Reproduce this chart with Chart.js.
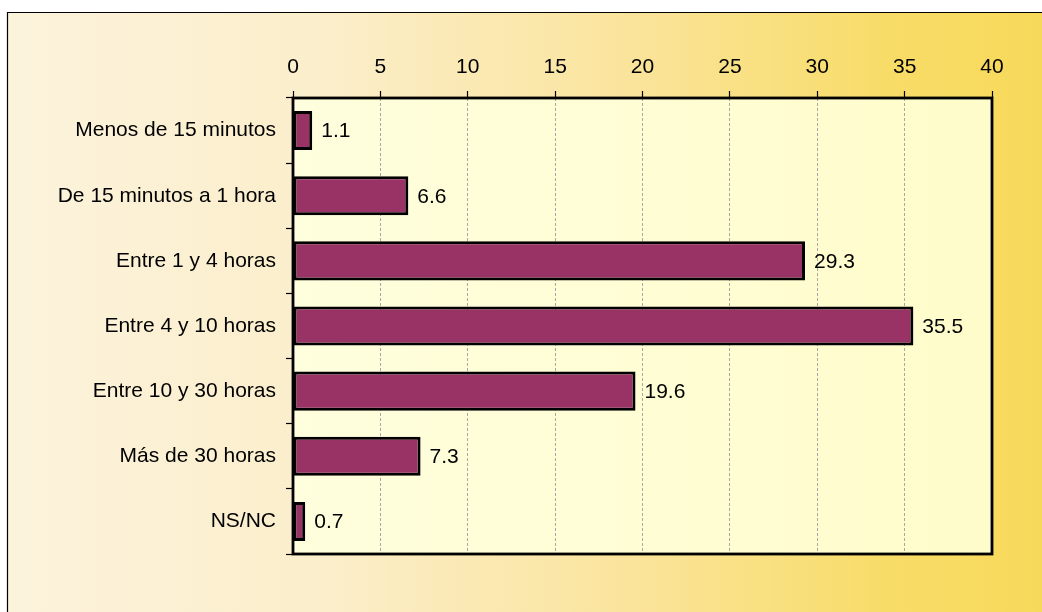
<!DOCTYPE html>
<html>
<head>
<meta charset="utf-8">
<script src="https://cdn.jsdelivr.net/npm/chart.js@4"></script>
<style>
  html, body { margin: 0; padding: 0; background: #fff; }
  #wrap { width: 1042px; height: 612px; }
</style>
</head>
<body>
<div id="wrap"><canvas id="myChart" width="1042" height="612"></canvas></div>
<script>
// chart data
const categories = [
  "Menos de 15 minutos",
  "De 15 minutos a 1 hora",
  "Entre 1 y 4 horas",
  "Entre 4 y 10 horas",
  "Entre 10 y 30 horas",
  "Más de 30 horas",
  "NS/NC"
];
const percentages = [1.1, 6.6, 29.3, 35.5, 19.6, 7.3, 0.7];
const xTicks = [0, 5, 10, 15, 20, 25, 30, 35, 40];

const FONT = "'Liberation Sans', Arial, sans-serif";

// background gradient, plot fill and frame
const backdrop = {
  id: "backdrop",
  beforeDraw(chart) {
    const { ctx, width, height, chartArea: a } = chart;
    ctx.save();
    ctx.fillStyle = "#ffffff";
    ctx.fillRect(0, 0, width, height);
    const g = ctx.createLinearGradient(7, 0, width, 0);
    g.addColorStop(0, "#fcf3dc");
    g.addColorStop(0.3, "#fbeecb");
    g.addColorStop(0.6, "#fae49c");
    g.addColorStop(0.85, "#f8dc68");
    g.addColorStop(1, "#f7d95a");
    ctx.fillStyle = g;
    ctx.fillRect(7, 12, width - 7, height - 12);
    ctx.strokeStyle = "#000";
    ctx.lineWidth = 1.2;
    ctx.beginPath();
    ctx.moveTo(7.5, height + 2);
    ctx.lineTo(7.5, 12.5);
    ctx.lineTo(width + 2, 12.5);
    ctx.stroke();
    const p = ctx.createLinearGradient(a.left, 0, a.right, 0);
    p.addColorStop(0, "#fffedd");
    p.addColorStop(1, "#fffccb");
    ctx.fillStyle = p;
    ctx.fillRect(a.left, a.top, a.right - a.left, a.bottom - a.top);
    ctx.restore();
  },
  afterDatasetsDraw(chart) {
    const { ctx, chartArea: a } = chart;
    ctx.save();
    // value labels
    ctx.font = "21px " + FONT;
    ctx.fillStyle = "#000";
    ctx.textAlign = "left";
    ctx.textBaseline = "middle";
    chart.getDatasetMeta(0).data.forEach((bar, i) => {
      ctx.fillText(percentages[i].toFixed(1), bar.x + 9, bar.y + 1);
    });
    // plot frame
    ctx.strokeStyle = "#000";
    ctx.lineWidth = 2.8;
    ctx.strokeRect(a.left, a.top, a.right - a.left, a.bottom - a.top);
    ctx.restore();
  }
};

const ctx = document.getElementById("myChart");

new Chart(ctx, {
  type: "bar",
  data: {
    labels: categories,
    datasets: [
      {
        data: percentages,
        backgroundColor: "#993366",
        borderColor: "#000000",
        borderWidth: 3,
        borderSkipped: false,
        barPercentage: 0.6,
        categoryPercentage: 1
      }
    ]
  },
  options: {
    indexAxis: "y",
    responsive: false,
    animation: false,
    layout: { padding: { left: 0, top: 0, right: 50, bottom: 58 } },
    scales: {
      x: {
        position: "top",
        min: 0,
        max: 40,
        afterBuildTicks: (scale) => {
          scale.ticks = xTicks.map((v) => ({ value: v }));
        },
        afterFit: (scale) => { scale.height = 98; },
        ticks: {
          color: "#000",
          font: { family: FONT, size: 21 },
          padding: 11,
          maxRotation: 0
        },
        grid: {
          color: "#a8a8a8",
          lineWidth: 1,
          tickLength: 7,
          tickColor: "#000",
          tickWidth: 1.2,
          tickBorderDash: []
        },
        border: { display: false, dash: [3, 2] }
      },
      y: {
        afterFit: (scale) => { scale.width = 293; },
        ticks: {
          color: "#000",
          font: { family: FONT, size: 21 },
          padding: 10
        },
        grid: {
          offset: true,
          drawOnChartArea: false,
          tickLength: 7,
          tickColor: "#000",
          tickWidth: 1.2
        },
        border: { display: false }
      }
    },
    plugins: {
      legend: { display: false },
      tooltip: { enabled: false }
    }
  },
  plugins: [backdrop]
});
</script>
</body>
</html>
